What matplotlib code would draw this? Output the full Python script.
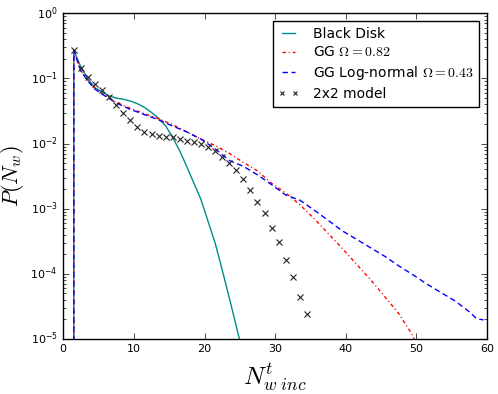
import numpy as np
from matplotlib import pyplot as plt

plt.style.use('classic')

# ── Data (x = N_w inc, y = probability) ───────────────────────────────────
disk_x = [0.5, 1.5, 2.5, 3.5, 4.5, 5.5, 6.5, 7.5, 8.5, 9.5, 10.5, 11.5, 12.5,
          13.5, 14.5, 15.5, 16.5, 17.5, 18.5, 19.5, 20.5, 21.5, 22.5, 23.5,
          24.5, 25.5, 26.5]
disk_p = [0.0, 0.27, 0.15, 0.098, 0.072, 0.062, 0.054, 0.050, 0.048, 0.045,
          0.041, 0.036, 0.030, 0.0245, 0.0187, 0.0124, 0.0077, 0.0044,
          0.00246, 0.00138, 6.4e-4, 2.98e-4, 1.15e-4, 4.3e-5, 1.56e-5,
          5.6e-6, 1.8e-6]

gg_x = [0.5, 1.5, 2.5, 3.5, 4.5, 5.5, 7.5, 9.5, 11.5, 13.5, 15.5, 17.5, 19.5,
        21.5, 23.5, 25.5, 27.5, 29.5, 31.5, 33.5, 35.5, 37.5, 39.5, 41.5,
        43.5, 45.5, 47.5, 49.5, 50.5]
gg_p = [0.0, 0.269, 0.132, 0.0933, 0.0708, 0.0589, 0.0432, 0.0347, 0.0288,
        0.0240, 0.0195, 0.0151, 0.0117, 0.00933, 0.00708, 0.00513, 0.00380,
        0.00245, 0.00174, 0.00115, 7.08e-4, 4.17e-4, 2.45e-4, 1.41e-4,
        8.13e-5, 4.47e-5, 2.45e-5, 1.12e-5, 5.0e-6]

ln_x = [0.5, 1.5, 2.5, 3.5, 4.5, 5.5, 7.5, 9.5, 11.5, 13.5, 15.5, 17.5, 19.5,
        21.5, 23.5, 25.5, 27.5, 29.5, 31.5, 33.5, 35.5, 37.5, 39.5, 41.5,
        43.5, 45.5, 47.5, 49.5, 51.5, 53.5, 55.5, 57.5, 58.5, 59.5]
ln_p = [0.0, 0.269, 0.129, 0.0912, 0.0684, 0.0575, 0.0422, 0.0335, 0.0279,
        0.0231, 0.0186, 0.0151, 0.0117, 0.00832, 0.00550, 0.00447, 0.00331,
        0.00234, 0.00162, 0.00135, 9.55e-4, 6.61e-4, 4.57e-4, 3.39e-4,
        2.51e-4, 1.86e-4, 1.32e-4, 9.66e-5, 6.92e-5, 5.13e-5, 3.80e-5,
        2.6e-5, 2.05e-5, 1.95e-5]

m22_x = np.arange(1.5, 35.0, 1.0)
m22_p = [0.273, 0.143, 0.104, 0.0822, 0.0658, 0.0525, 0.0396, 0.0292, 0.0228,
         0.0182, 0.0152, 0.0140, 0.0132, 0.0128, 0.0128, 0.0116, 0.0111,
         0.0105, 0.00975, 0.00877, 0.00769, 0.00622, 0.00498, 0.00389,
         0.00283, 0.00194, 0.00128, 8.5e-4, 4.97e-4, 3.03e-4, 1.61e-4,
         8.95e-5, 4.41e-5, 2.42e-5]

# ── Figure ─────────────────────────────────────────────────────────────────
fig = plt.figure(figsize=(4.98, 3.94), dpi=100, facecolor='white')
ax = fig.add_axes([0.127, 0.14, 0.851, 0.826])

ax.plot(disk_x, disk_p, color='darkcyan', lw=1.0, label='Black Disk')
ax.plot(gg_x, gg_p, color='red', ls=(0, (2.5, 2.0, 0.8, 2.0)), lw=1.0,
        label=r'GG $\Omega=0.82$')
ax.plot(ln_x, ln_p, color='blue', ls=(0, (4.0, 2.5)), lw=1.0,
        label=r'GG Log-normal $\Omega=0.43$')
ax.plot(m22_x, m22_p, 'x', color='#222222', ms=5, mew=0.8,
        label='2x2 model')

ax.set_yscale('log', nonpositive='clip')
ax.set_xlim(0, 60)
ax.set_ylim(1e-5, 1)

ax.tick_params(labelsize=8)
ax.set_xlabel(r'$N^t_{w\ inc}$', fontsize=18)
ax.set_ylabel(r'$P(N_w)$', fontsize=16, labelpad=3)

ax.legend(loc='upper right', fontsize=10, numpoints=2, markerscale=0.5,
          handlelength=1.5, handletextpad=1.0, labelspacing=0.35,
          borderaxespad=0.55)

fig.savefig('out.png', dpi=100, facecolor='white')
